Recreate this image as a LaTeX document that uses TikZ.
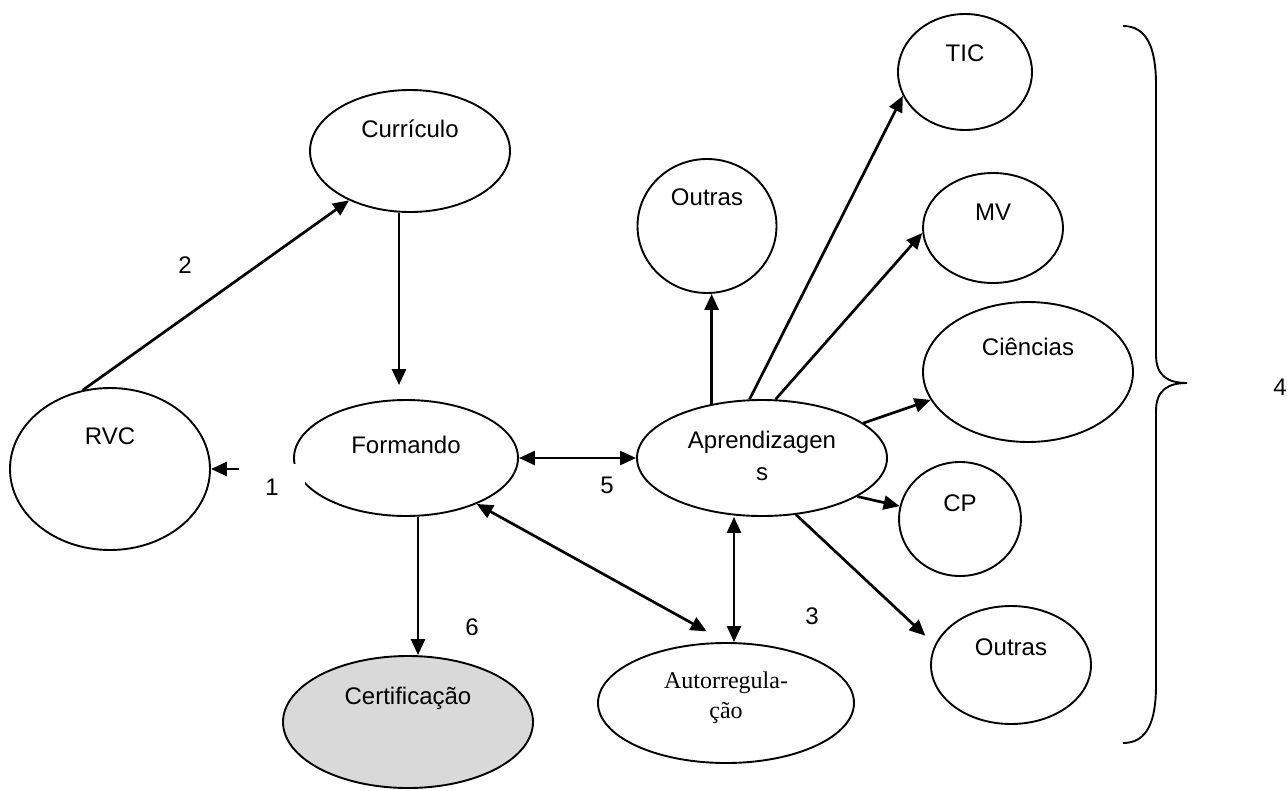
\documentclass[tikz,border=0pt]{standalone}
\usepackage{fontspec}
\setmainfont{Liberation Sans}
\newfontfamily\timesfont{Liberation Serif}
\usepackage{tikz}
\usetikzlibrary{shapes.geometric, positioning}
\usetikzlibrary{arrows.meta}
\tikzset{>={Triangle[width=14pt,length=16pt]}}

\begin{document}
\begin{tikzpicture}[x=1pt, y=-1pt, every node/.style={font=\fontsize{24}{32}\selectfont}, bubble/.style={ellipse, draw=black, line width=1.9pt, inner sep=0pt}, greybubble/.style={bubble, fill=black!15}, numtext/.style={draw=none, inner sep=0pt}, link/.style={line width=2.7pt}]
    \useasboundingbox (0,0) rectangle (1288,790);

    %Nodes
    \node[bubble, minimum width=134pt, minimum height=116pt, label={[yshift=19pt]center:TIC}](tic) at (965,72){};
    \node[bubble, minimum width=200pt, minimum height=122pt, label={[yshift=22pt]center:Currículo}](curriculo) at (410,151){};
    \node[bubble, minimum width=139pt, minimum height=134pt, label={[yshift=29pt]center:Outras}](outras_top) at (707,226){};
    \node[bubble, minimum width=140pt, minimum height=110pt, label={[yshift=16pt]center:MV}](mv) at (993,228){};
    \node[bubble, minimum width=210pt, minimum height=140pt, label={[yshift=25pt]center:Ciências}](ciencias) at (1028,372){};
    \node[bubble, minimum width=200pt, minimum height=162pt, label={[yshift=33pt]center:RVC}](rvc) at (110,469){};
    \node[bubble, minimum width=224pt, minimum height=116pt, label={[yshift=13pt]center:Formando}](formando) at (406,458){};
    \node[bubble, minimum width=250pt, minimum height=116pt, label={[yshift=2pt, align=center]center:Aprendizagen\\s}](aprend) at (762,458){};
    \node[bubble, minimum width=122pt, minimum height=114pt, label={[yshift=16pt]center:CP}](cp) at (960,519){};
    \node[bubble, minimum width=160pt, minimum height=118pt, label={[yshift=18pt]center:Outras}](outras_bottom) at (1011,665){};
    \node[bubble, minimum width=256pt, minimum height=120pt, label={[yshift=5pt, align=center, font=\timesfont\fontsize{24}{30}\selectfont]center:Autorregula-\\ção}](autoreg) at (726,703){};
    \node[greybubble, minimum width=250pt, minimum height=132pt, label={[yshift=24pt]center:Certificação}](certif) at (408,722){};

    %Lines
    \draw[->, link] (rvc.109) -- (curriculo.219);
    \draw[->, link, shorten >=14pt] ([xshift=-11pt]curriculo.south) -- ([xshift=-11pt]curriculo.south |- formando.north);
    \draw[->, link] (rvc.east -| formando.west) -- (rvc.east);
    \draw[<->, link] (formando.east) -- (aprend.west);
    \draw[<->, link, shorten >=22pt] (formando.-33) -- (autoreg.north);
    \draw[<->, link] ([xshift=8pt]autoreg.north |- aprend.south) -- ([xshift=8pt]autoreg.north);
    \draw[->, link] ([xshift=10pt]certif.north |- formando.south) -- ([xshift=10pt]certif.north);
    \draw[->, link] (aprend.133) -- (aprend.133 |- outras_top.south);
    \draw[->, link] (aprend.102) -- (tic.201);
    \draw[->, link] (aprend.77) -- (mv.184);
    \draw[->, link] (aprend.19) -- (ciencias.196);
    \draw[->, link] (aprend.-22) -- (cp.168);
    \draw[->, link, shorten >=13pt] (aprend.-59) -- (outras_bottom.165);

    %Brace
    \draw[line width=1.9pt] (1123,26) .. controls (1148,26) and (1156,50) .. (1156,85) -- (1156,355) .. controls (1156,376) and (1168,383) .. (1187,383) .. controls (1168,383) and (1156,390) .. (1156,411) -- (1156,685) .. controls (1156,720) and (1148,743) .. (1123,743);

    %Numbers
    \node[numtext, fill=white, minimum width=66pt, minimum height=46pt](one_text) at (272,487){1};
    \node[numtext](two_text) at (185,265){2};
    \node[numtext](three_text) at (812,616){3};
    \node[numtext](four_text) at (1280,387){4};
    \node[numtext](five_text) at (607,485){5};
    \node[numtext](six_text) at (472,627){6};

\end{tikzpicture}
\end{document}
